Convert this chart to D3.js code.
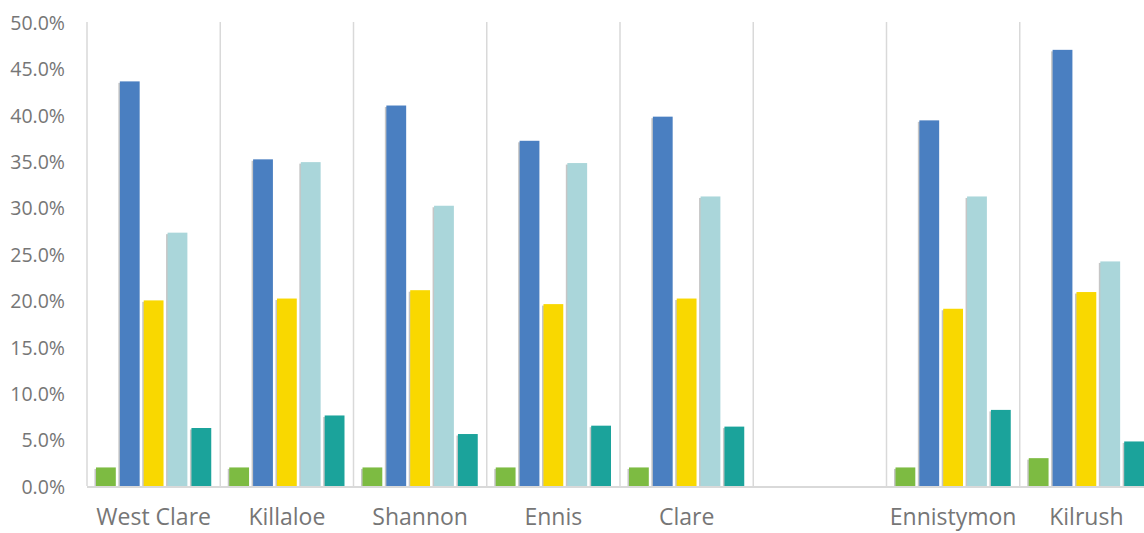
<!DOCTYPE html>
<html>
<head>
<meta charset="utf-8">
<script src="https://cdn.jsdelivr.net/npm/d3@7"></script>
<style>
  body { margin: 0; background: #fff; }
  svg { display: block; font-family: "Open Sans", "Noto Sans", sans-serif; }
</style>
</head>
<body>
<div id="chart"></div>
<script>
const categories = ["West Clare", "Killaloe", "Shannon", "Ennis", "Clare", "", "Ennistymon", "Kilrush"];
const seriesColors = ["#7dbb42", "#4a7fc1", "#f9d800", "#aad6da", "#1ba39b"];
const s1 = [2.0, 2.0, 2.0, 2.0, 2.0, null, 2.0, 3.0];
const s2 = [43.6, 35.2, 41.0, 37.2, 39.8, null, 39.4, 47.0];
const s3 = [20.0, 20.2, 21.1, 19.6, 20.2, null, 19.1, 20.9];
const s4 = [27.3, 34.9, 30.2, 34.8, 31.2, null, 31.2, 24.2];
const s5 = [6.25, 7.6, 5.6, 6.5, 6.4, null, 8.2, 4.8];
const yTicks = [0, 5, 10, 15, 20, 25, 30, 35, 40, 45, 50];

const series = [s1, s2, s3, s4, s5];
const margin = {top: 22, right: -9, bottom: 47, left: 87};
const width = 1144 - margin.left - margin.right;
const height = 533 - margin.top - margin.bottom;

const svg = d3.select("#chart")
    .append("svg")
    .attr("width", 1144)
    .attr("height", 533)
    .append("g")
    .attr("transform", `translate(${margin.left},${margin.top})`);

const xScale = d3.scaleBand().domain(d3.range(categories.length)).range([0, width]);
const xInner = d3.scaleBand().domain(d3.range(series.length)).range([9, xScale.bandwidth() - 9]).paddingInner(0.17);
const yScale = d3.scaleLinear().domain([0, 50]).range([height, 0]);

// vertical separators between categories
svg.selectAll(".sep")
    .data(d3.range(categories.length + 1))
    .enter().append("line")
    .attr("class", "sep")
    .attr("x1", d => d * xScale.step())
    .attr("x2", d => d * xScale.step())
    .attr("y1", 0)
    .attr("y2", height)
    .attr("stroke", "#d9d9d9")
    .attr("stroke-width", 1.5);

// y labels
svg.selectAll(".yLabel")
    .data(yTicks)
    .enter().append("text")
    .attr("class", "yLabel")
    .attr("x", -22)
    .attr("y", d => yScale(d) + 1)
    .attr("dy", "0.35em")
    .attr("text-anchor", "end")
    .attr("font-size", "19.5px")
    .attr("fill", "#767676")
    .text(d => d.toFixed(1) + "%");

// bars
series.forEach((vals, si) => {
    const data = vals.map((v, i) => ({i, v})).filter(d => d.v !== null);
    svg.selectAll(".shadow" + si)
        .data(data)
        .enter().append("rect")
        .attr("x", d => xScale(d.i) + xInner(si) - 1.5)
        .attr("y", d => yScale(d.v) + 1.5)
        .attr("width", xInner.bandwidth())
        .attr("height", d => height - yScale(d.v))
        .attr("fill", "#a0a0a0")
        .attr("opacity", 0.6);
    svg.selectAll(".bar" + si)
        .data(data)
        .enter().append("rect")
        .attr("x", d => xScale(d.i) + xInner(si))
        .attr("y", d => yScale(d.v))
        .attr("width", xInner.bandwidth())
        .attr("height", d => height - yScale(d.v))
        .attr("fill", seriesColors[si]);
});

// baseline
svg.append("line")
    .attr("x1", 0)
    .attr("x2", width)
    .attr("y1", height + 1)
    .attr("y2", height + 1)
    .attr("stroke", "#d9d9d9")
    .attr("stroke-width", 2);

// category labels
svg.selectAll(".xLabel")
    .data(categories)
    .enter().append("text")
    .attr("class", "xLabel")
    .attr("x", (d, i) => xScale(i) + xScale.bandwidth() / 2)
    .attr("y", height + 39)
    .attr("text-anchor", "middle")
    .attr("font-size", "23px")
    .attr("fill", "#767676")
    .text(d => d);
</script>
</body>
</html>
